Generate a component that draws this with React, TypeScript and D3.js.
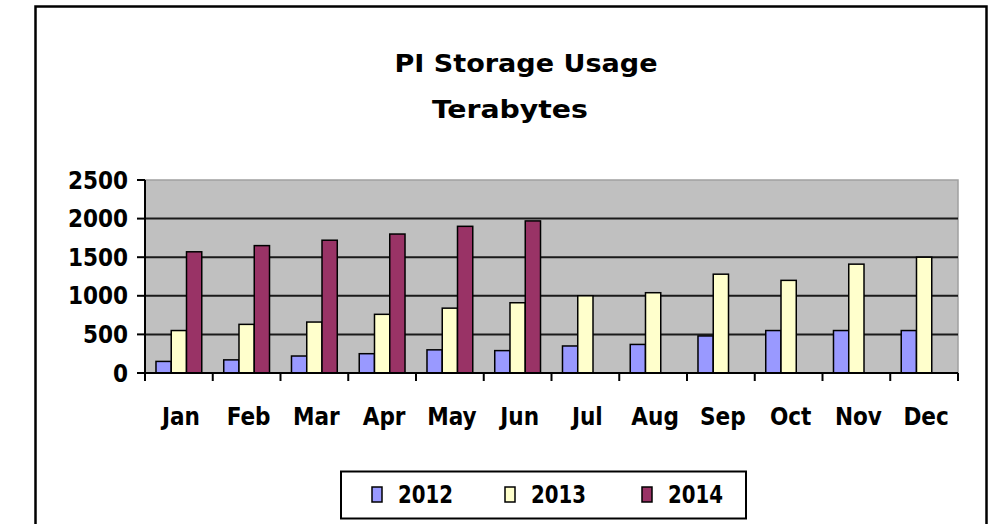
import React from 'react';
import * as d3 from 'd3';

const months = ['Jan', 'Feb', 'Mar', 'Apr', 'May', 'Jun', 'Jul', 'Aug', 'Sep', 'Oct', 'Nov', 'Dec'];
const years = ['2012', '2013', '2014'];
const v2012 = [150, 170, 220, 250, 300, 290, 350, 370, 480, 550, 550, 550];
const v2013 = [550, 630, 660, 760, 840, 910, 1000, 1040, 1280, 1200, 1410, 1500];
const v2014 = [1570, 1650, 1720, 1800, 1900, 1970, null, null, null, null, null, null];
const yTicks = [0, 500, 1000, 1500, 2000, 2500];

const COLORS = ['#9999ff', '#ffffcc', '#993366'];
const FONT = '"DejaVu Sans Condensed", "DejaVu Sans", sans-serif';

const W = 991;
const H = 524;
const plot = { l: 145, r: 958, t: 180, b: 373 };

const App = () => {
  const series = [v2012, v2013, v2014];

  const x0 = d3.scaleBand<string>().domain(months).range([plot.l, plot.r]).padding(0);
  const x1 = d3
    .scaleBand<string>()
    .domain(years)
    .range([0, x0.bandwidth()])
    .paddingInner(0)
    .paddingOuter(0.72);
  const y = d3.scaleLinear().domain([0, 2500]).range([plot.b, plot.t]);

  return (
    <svg
      width={W}
      height={H}
      viewBox={`0 0 ${W} ${H}`}
      style={{ position: 'absolute', left: 0, top: 0, background: '#fff' }}
    >
      {/* outer chart frame, runs past the bottom edge */}
      <rect x={35.5} y={6.5} width={951} height={600} fill="#fff" stroke="#000" strokeWidth={2.5} />

      <text x={526} y={72} textAnchor="middle" fontFamily={FONT} fontWeight="bold" fontSize={25}
        textLength={263} lengthAdjust="spacingAndGlyphs">
        PI Storage Usage
      </text>
      <text x={510} y={118} textAnchor="middle" fontFamily={FONT} fontWeight="bold" fontSize={25}
        textLength={156} lengthAdjust="spacingAndGlyphs">
        Terabytes
      </text>

      {/* plot area */}
      <rect x={plot.l} y={plot.t} width={plot.r - plot.l} height={plot.b - plot.t}
        fill="#c0c0c0" stroke="#a0a0a0" strokeWidth={1.5} />
      {yTicks.filter((t) => t > 0 && t < 2500).map((t) => (
        <line key={t} x1={plot.l} x2={plot.r} y1={y(t)} y2={y(t)} stroke="#1a1a1a" strokeWidth={2} />
      ))}

      {/* bars */}
      {months.map((m, i) => (
        <g key={m} transform={`translate(${x0(m)},0)`}>
          {series.map((s, j) => {
            const v = s[i];
            if (v == null) return null;
            return (
              <rect key={j} x={x1(years[j])} y={y(v)} width={x1.bandwidth()} height={y(0) - y(v)}
                fill={COLORS[j]} stroke="#000" strokeWidth={1.5} />
            );
          })}
        </g>
      ))}

      {/* y axis */}
      <line x1={plot.l} x2={plot.l} y1={plot.t} y2={plot.b} stroke="#000" strokeWidth={2} />
      {yTicks.map((t) => (
        <g key={t}>
          <line x1={plot.l - 8} x2={plot.l} y1={y(t)} y2={y(t)} stroke="#000" strokeWidth={2} />
          <text x={128} y={y(t) + 8.5} textAnchor="end" fontFamily={FONT} fontWeight="bold" fontSize={24}>
            {t}
          </text>
        </g>
      ))}

      {/* x axis */}
      <line x1={plot.l} x2={plot.r} y1={plot.b} y2={plot.b} stroke="#000" strokeWidth={2} />
      {months.map((m) => (
        <line key={m} x1={x0(m)} x2={x0(m)} y1={plot.b} y2={plot.b + 8} stroke="#000" strokeWidth={2} />
      ))}
      <line x1={plot.r} x2={plot.r} y1={plot.b} y2={plot.b + 8} stroke="#000" strokeWidth={2} />
      {months.map((m) => (
        <text key={m} x={(x0(m) as number) + x0.bandwidth() / 2 + 2} y={425} textAnchor="middle"
          fontFamily={FONT} fontWeight="bold" fontSize={24}>
          {m}
        </text>
      ))}

      {/* legend */}
      <rect x={341} y={471.5} width={405} height={47} fill="#fff" stroke="#000" strokeWidth={2} />
      {years.map((yr, j) => {
        const lx = [372, 505, 642][j];
        return (
          <g key={yr}>
            <rect x={lx} y={487} width={10} height={15} fill={COLORS[j]} stroke="#000" strokeWidth={1.5} />
            <text x={lx + 26} y={503} fontFamily={FONT} fontWeight="bold" fontSize={24}
              textLength={55} lengthAdjust="spacingAndGlyphs">
              {yr}
            </text>
          </g>
        );
      })}
    </svg>
  );
};

export default App;
